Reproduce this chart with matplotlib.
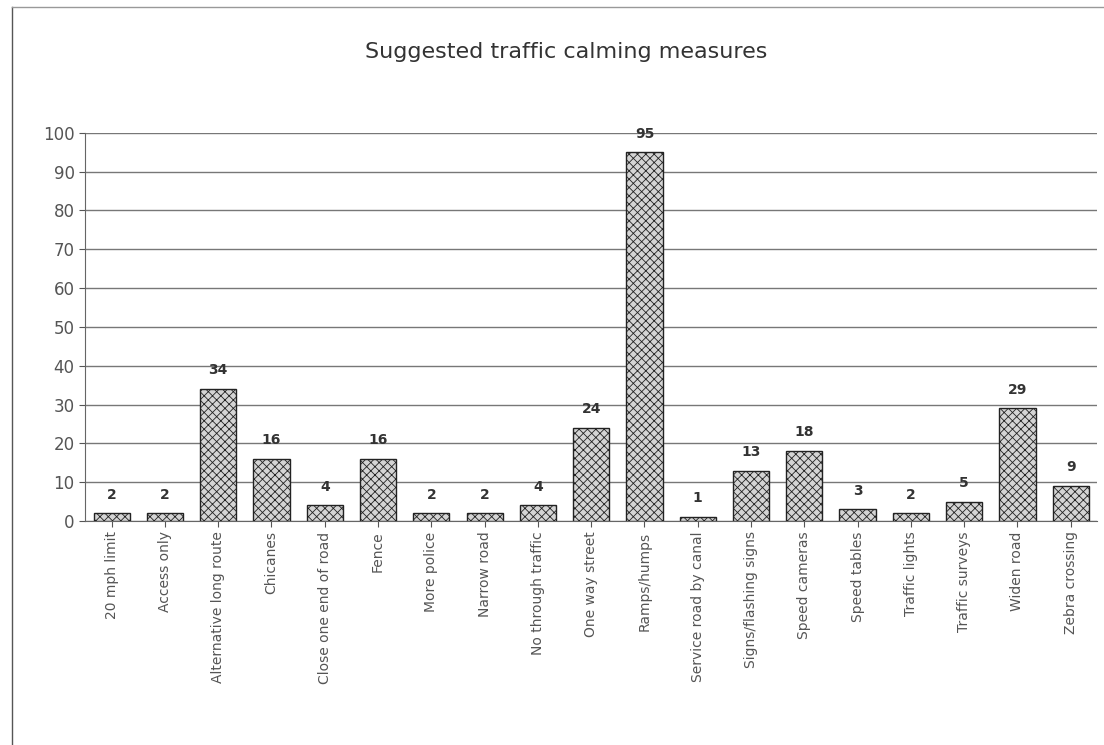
import matplotlib.pyplot as plt
import numpy as np

# === Data ===
measures = [
    "20 mph limit", "Access only", "Alternative long route", "Chicanes",
    "Close one end of road", "Fence", "More police", "Narrow road",
    "No through traffic", "One way street", "Ramps/humps",
    "Service road by canal", "Signs/flashing signs", "Speed cameras",
    "Speed tables", "Traffic lights", "Traffic surveys", "Widen road",
    "Zebra crossing",
]
counts = [2, 2, 34, 16, 4, 16, 2, 2, 4, 24, 95, 1, 13, 18, 3, 2, 5, 29, 9]
yticks = list(range(0, 101, 10))

# === Plot ===
plt.rcParams['hatch.color'] = '#555555'
plt.rcParams['hatch.linewidth'] = 0.6

fig = plt.figure(figsize=(11.04, 7.45), dpi=100)
ax = fig.add_axes([0.077, 0.3007, 0.917, 0.521])

x = np.arange(len(measures))
ax.bar(x, counts, width=0.68, color='#d4d4d4', edgecolor='#222222',
       linewidth=1.0, hatch='xxxx', zorder=3)

for xi, v in zip(x, counts):
    ax.text(xi, v + 3.0, str(v), ha='center', va='bottom', fontsize=10,
            fontweight='bold', color='#333333')

ax.set_xlim(-0.5, len(measures) - 0.5)
ax.set_ylim(0, 100)
ax.set_yticks(yticks)
ax.tick_params(axis='y', labelsize=12, colors='#555555', length=4)
ax.set_xticks(x)
ax.set_xticklabels(measures, rotation=90, fontsize=10, color='#555555')
ax.tick_params(axis='x', length=4, colors='#555555')
ax.yaxis.grid(True, color='#777777', linewidth=1.0, zorder=0)
ax.set_axisbelow(True)
for side in ['top', 'right']:
    ax.spines[side].set_visible(False)
ax.spines['left'].set_color('#666666')
ax.spines['bottom'].set_color('#666666')

fig.text(0.513, 0.93, "Suggested traffic calming measures", ha='center',
         va='center', fontsize=16, color='#333333')

# scanned page frame
fig.add_artist(plt.Line2D([0.011, 0.011], [0.0, 0.99], color='#555555', linewidth=1.0))
fig.add_artist(plt.Line2D([0.011, 1.0], [0.99, 0.99], color='#999999', linewidth=1.0))

fig.savefig('out.png', dpi=100)
